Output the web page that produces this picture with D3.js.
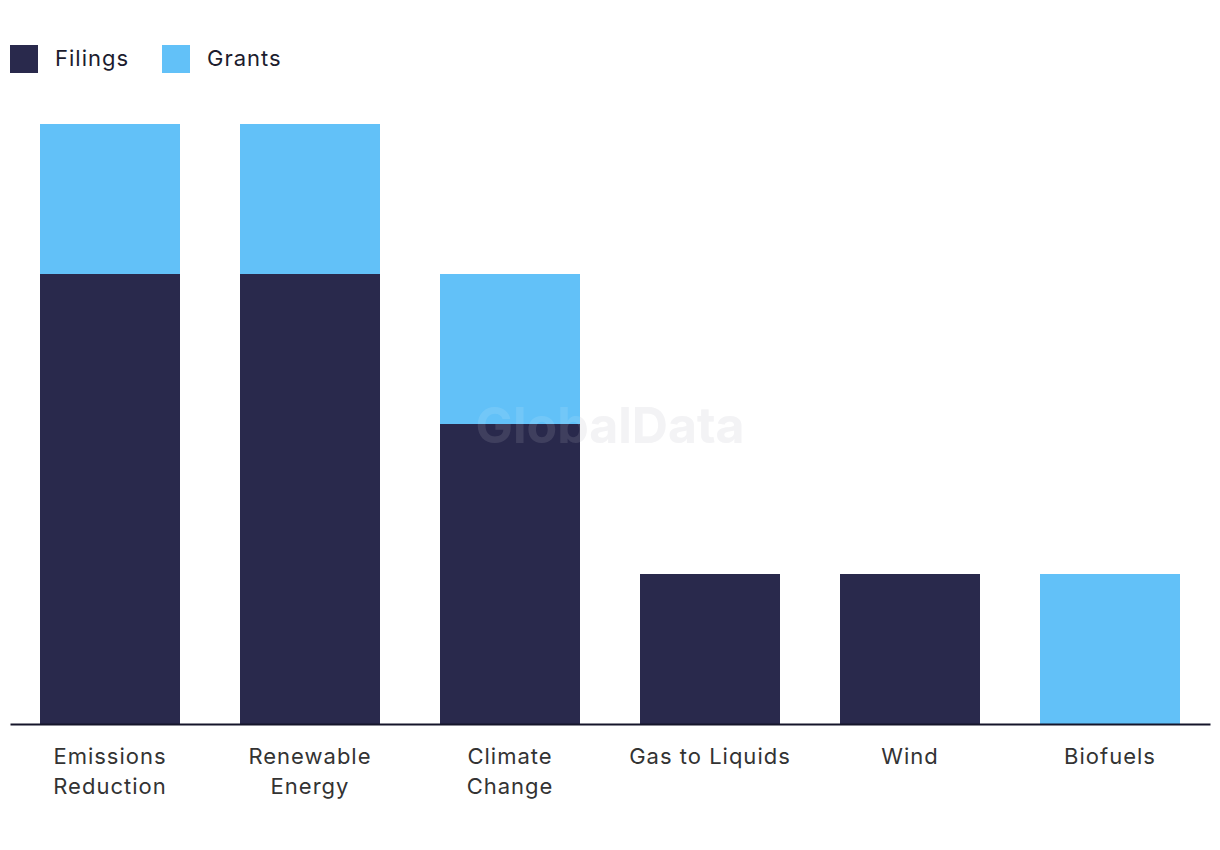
<!DOCTYPE html>
<html><head><meta charset="utf-8">
<script src="https://cdn.jsdelivr.net/npm/d3@7"></script>
<style>body{margin:0;background:#fff;font-family:"Inter","Liberation Sans",sans-serif;}</style>
</head><body>
<svg id="chart" width="1220" height="850"></svg>
<script>
const categories = ["Emissions Reduction","Renewable Energy","Climate Change","Gas to Liquids","Wind","Biofuels"];
const labelLines = [["Emissions","Reduction"],["Renewable","Energy"],["Climate","Change"],["Gas to Liquids"],["Wind"],["Biofuels"]];
const filings = [3,3,2,1,1,0];
const grants = [1,1,1,0,0,1];
const seriesNames = ["Filings","Grants"];
const colors = ["#29294c","#62c1f8"];

const svg = d3.select("#chart");
const x = d3.scaleBand().domain(categories).range([10,1210]).paddingInner(0.3).paddingOuter(0.15);
const y = d3.scaleLinear().domain([0,4]).range([724,124]);

svg.append("text").attr("x",610).attr("y",443).attr("text-anchor","middle")
  .attr("font-size",50).attr("font-weight",700).attr("fill","#e8e8ec").attr("opacity",0.55)
  .attr("font-family","Inter, sans-serif").text("GlobalData");

const data = categories.map((c,i)=>({cat:c,Filings:filings[i],Grants:grants[i]}));
const stack = d3.stack().keys(seriesNames)(data);
const g = svg.append("g");
stack.forEach((s,si)=>{
  g.selectAll(null).data(s).join("rect")
    .attr("x",d=>x(d.data.cat)).attr("width",x.bandwidth())
    .attr("y",d=>y(d[1])).attr("height",d=>y(d[0])-y(d[1]))
    .attr("fill",colors[si]);
});
svg.append("text").attr("x",610).attr("y",443).attr("text-anchor","middle")
  .attr("font-size",50).attr("font-weight",700).attr("fill","#ffffff").attr("opacity",0.1)
  .attr("font-family","Inter, sans-serif").text("GlobalData");

const axis = svg.append("g").attr("transform","translate(0,724)").call(d3.axisBottom(x).tickSize(0).tickFormat(""));
axis.select(".domain").attr("stroke","#15152a").attr("stroke-width",2);

categories.forEach((c,i)=>{
  const cx = x(c)+x.bandwidth()/2;
  const t = svg.append("text").attr("x",cx).attr("y",764)
    .attr("text-anchor","middle").attr("font-size",22).attr("letter-spacing",1).attr("fill","#333");
  labelLines[i].forEach((l,j)=>t.append("tspan").attr("x",cx).attr("dy",j?30:0).text(l));
});

const leg = [{name:"Filings",x:10},{name:"Grants",x:162}];
leg.forEach((d,i)=>{
  svg.append("rect").attr("x",d.x).attr("y",45).attr("width",28).attr("height",28).attr("fill",colors[i]);
  svg.append("text").attr("x",d.x+45).attr("y",66).attr("font-size",22).attr("letter-spacing",1).attr("fill","#1c1c2e").text(seriesNames[i]);
});
</script>
</body></html>
